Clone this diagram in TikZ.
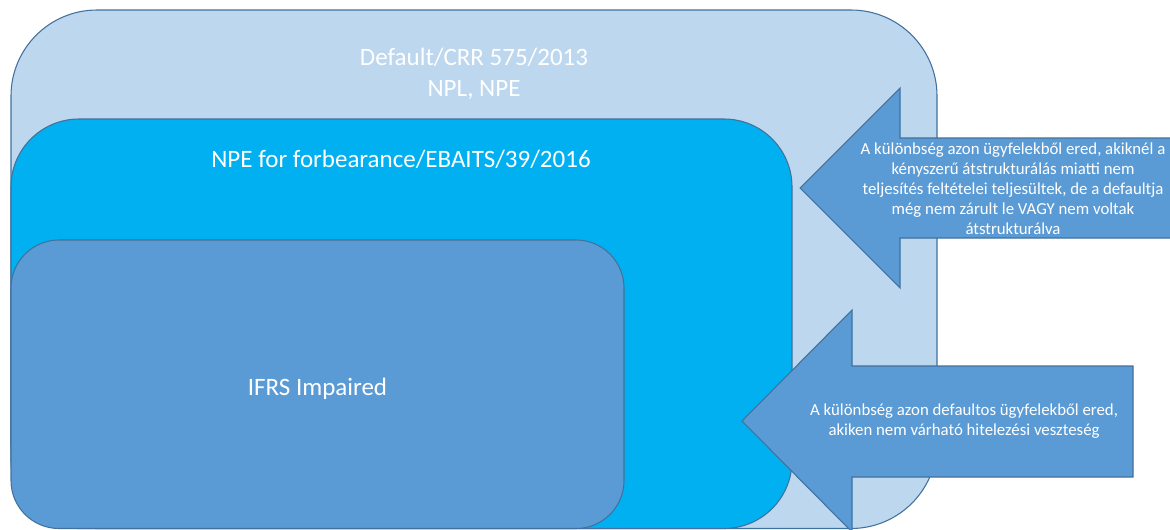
\documentclass[tikz,border=0pt]{standalone}
\usepackage{fontspec}
\setmainfont{Carlito}
\definecolor{outerfill}{HTML}{BDD7EE}
\definecolor{midfill}{HTML}{00B0F0}
\definecolor{innerfill}{HTML}{5B9BD5}
\definecolor{edge}{HTML}{41719C}
\tikzset{
  panel/.style={draw=edge, line width=0.8pt},
  bigtext/.style={text=white, inner sep=0pt, font=\fontsize{18.75}{23.25}\selectfont, align=center},
  arrowtext/.style={text=white, inner sep=0pt, font=\fontsize{12.6}{15}\selectfont, align=center},
  arrowshape/.style={draw=edge, line width=0.8pt, fill=innerfill, line join=miter},
}
\begin{document}
\begin{tikzpicture}[x=0.75pt, y=-0.75pt]
\useasboundingbox (0,0) rectangle (1170,529);
% outer box
\draw[panel, fill=outerfill, rounded corners=64.5pt] (11,10) rectangle (937,528.5);
% middle box
\draw[panel, fill=midfill, rounded corners=51pt] (11,119) rectangle (792,528.5);
% inner box
\draw[panel, fill=innerfill, rounded corners=36pt] (11,240) rectangle (624,528.5);
% texts
\node[bigtext] (crr) at (474,74) {Default/CRR 575/2013\\NPL, NPE};
\node[bigtext, anchor=base] (npe) at (401,167) {NPE for forbearance/EBAITS/39/2016};
\node[bigtext, anchor=base] (ifrs) at (317.5,395) {IFRS Impaired};
% arrow 1
\draw[arrowshape] (800,188) -- (900,88) -- (900,138) -- (1175,138) -- (1175,238) -- (900,238) -- (900,288) -- cycle;
\node[arrowtext] (a1) at (1013,189) {A különbség azon ügyfelekből ered, akiknél a\\kényszerű átstrukturálás miatti nem\\teljesítés feltételei teljesültek, de a defaultja\\még nem zárult le VAGY nem voltak\\átstrukturálva};
% arrow 2
\draw[arrowshape] (742,421) -- (852,310) -- (852,366) -- (1133,366) -- (1133,477) -- (852,477) -- (852,532) -- cycle;
\node[arrowtext] (a2) at (964,421) {A különbség azon defaultos ügyfelekből ered,\\akiken nem várható hitelezési veszteség};
\end{tikzpicture}
\end{document}
